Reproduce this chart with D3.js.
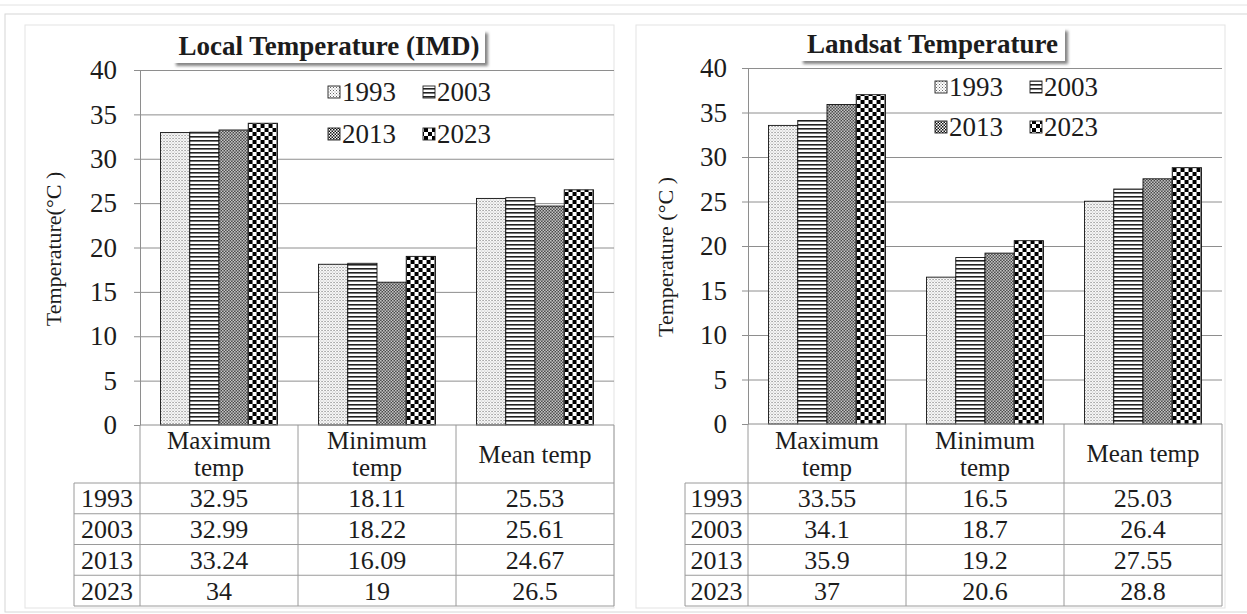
<!DOCTYPE html>
<html>
<head>
<meta charset="utf-8">
<script src="https://cdn.jsdelivr.net/npm/d3@7"></script>
<style>
  body { margin: 0; background: #fff; }
  text { font-family: "Liberation Serif", "Times New Roman", serif; fill: #1c1c1c; }
</style>
</head>
<body>
<div id="chart"></div>
<script>
// data
var categories = ["Maximum temp", "Minimum temp", "Mean temp"];
var categoryLines = [["Maximum", "temp"], ["Minimum", "temp"], ["Mean temp"]];
var years = ["1993", "2003", "2013", "2023"];
var imdValues = [ // rows = years, cols = categories
  [32.95, 18.11, 25.53],
  [32.99, 18.22, 25.61],
  [33.24, 16.09, 24.67],
  [34, 19, 26.5]
];
var landsatValues = [
  [33.55, 16.5, 25.03],
  [34.1, 18.7, 26.4],
  [35.9, 19.2, 27.55],
  [37, 20.6, 28.8]
];
var yTicks = [0, 5, 10, 15, 20, 25, 30, 35, 40];

var width = 1247, height = 614;

var svg = d3.select("#chart").append("svg")
    .attr("width", width)
    .attr("height", height);

var defs = svg.append("defs");

// title shadow
var f = defs.append("filter").attr("id", "shadow")
    .attr("x", "-10%").attr("y", "-30%").attr("width", "130%").attr("height", "180%");
f.append("feDropShadow").attr("dx", 3).attr("dy", 3)
    .attr("stdDeviation", 1.8).attr("flood-color", "#666").attr("flood-opacity", 0.8);

// fill patterns, one per year
function makePattern(id, size, draw) {
  var p = defs.append("pattern").attr("id", id)
      .attr("patternUnits", "userSpaceOnUse")
      .attr("width", size).attr("height", size);
  p.append("rect").attr("width", size).attr("height", size).attr("fill", "#fff");
  draw(p);
}
makePattern("p1993", 3, function(p) {
  p.append("rect").attr("x", 0).attr("y", 0).attr("width", 1).attr("height", 1).attr("fill", "#666");
  p.append("rect").attr("x", 1.5).attr("y", 1.5).attr("width", 1).attr("height", 1).attr("fill", "#888");
});
makePattern("p2003", 4, function(p) {
  p.append("rect").attr("x", 0).attr("y", 0).attr("width", 4).attr("height", 1.6).attr("fill", "#222");
});
makePattern("p2013", 3, function(p) {
  p.append("rect").attr("x", 0).attr("y", 0).attr("width", 1.5).attr("height", 1.5).attr("fill", "#111");
  p.append("rect").attr("x", 1.5).attr("y", 1.5).attr("width", 1.5).attr("height", 1.5).attr("fill", "#111");
});
makePattern("p2023", 8, function(p) {
  p.append("rect").attr("x", 0).attr("y", 0).attr("width", 4).attr("height", 4).attr("fill", "#000");
  p.append("rect").attr("x", 4).attr("y", 4).attr("width", 4).attr("height", 4).attr("fill", "#000");
});

// outer frames
svg.append("line").attr("x1", 0).attr("x2", width).attr("y1", 5).attr("y2", 5)
    .attr("stroke", "#e2e2e2");
svg.append("rect").attr("x", 5).attr("y", 14).attr("width", width).attr("height", 598)
    .attr("fill", "none").attr("stroke", "#d6d6d6");

var panels = [
  { title: "Local Temperature (IMD)", values: imdValues,
    box: [25, 25, 589, 583], titleBox: [173, 30, 312, 33], titleY: 55,
    yLabel: "Temperature(°C )", yLabelX: 53, yLabelY: 249,
    left: 140, right: 614, top: 70, bottom: 425, tableLeft: 74,
    legendX: 328, legendY: [92, 134], tickPad: 17 },
  { title: "Landsat Temperature", values: landsatValues,
    box: [636, 25, 589, 583], titleBox: [800, 28, 265, 33], titleY: 53,
    yLabel: "Temperature (°C )", yLabelX: 665, yLabelY: 257,
    left: 748, right: 1222, top: 68, bottom: 424, tableLeft: 685,
    legendX: 935, legendY: [87, 127], tickPad: 15 }
];

panels.forEach(drawPanel);

function drawPanel(cfg) {
  var g = svg.append("g");

  g.append("rect")
      .attr("x", cfg.box[0]).attr("y", cfg.box[1])
      .attr("width", cfg.box[2]).attr("height", cfg.box[3])
      .attr("fill", "#fff").attr("stroke", "#e3e3e3");

  var y = d3.scaleLinear().domain([0, 40]).range([cfg.bottom, cfg.top]);
  var x0 = d3.scaleBand().domain(categories).range([cfg.left, cfg.right])
      .paddingInner(0.26).paddingOuter(0.13);
  var x1 = d3.scaleBand().domain(years).range([0, x0.bandwidth()]);

  // gridlines
  g.append("g")
      .attr("transform", "translate(" + cfg.left + ",0)")
      .call(d3.axisLeft(y).tickValues(yTicks.slice(1)).tickSize(-(cfg.right - cfg.left)).tickFormat(""))
      .call(function(s) {
        s.select(".domain").remove();
        s.selectAll("line").attr("stroke", "#8e8e8e");
      });

  // y axis
  g.append("g")
      .attr("transform", "translate(" + cfg.left + ",0)")
      .call(d3.axisLeft(y).tickValues(yTicks).tickSize(6).tickPadding(cfg.tickPad).tickSizeOuter(0))
      .call(function(s) {
        s.select(".domain").attr("stroke", "#8e8e8e");
        s.selectAll("line").attr("stroke", "#8e8e8e");
        s.selectAll("text").attr("font-size", 27).attr("font-family", null).attr("fill", "#1c1c1c");
      });

  g.append("text")
      .attr("transform", "translate(" + cfg.yLabelX + "," + cfg.yLabelY + ") rotate(-90)")
      .attr("text-anchor", "middle")
      .attr("dy", "0.35em")
      .attr("font-size", 22)
      .text(cfg.yLabel);

  // bars
  var groups = g.selectAll(".grp")
      .data(categories)
    .enter().append("g")
      .attr("transform", function(d) { return "translate(" + x0(d) + ",0)"; });

  groups.selectAll("rect")
      .data(function(c, ci) {
        return years.map(function(yr, yi) { return { year: yr, value: cfg.values[yi][ci] }; });
      })
    .enter().append("rect")
      .attr("x", function(d) { return x1(d.year); })
      .attr("y", function(d) { return y(d.value); })
      .attr("width", x1.bandwidth())
      .attr("height", function(d) { return y(0) - y(d.value); })
      .attr("fill", function(d) { return "url(#p" + d.year + ")"; })
      .attr("stroke", "#111")
      .attr("stroke-width", 0.9);

  // x axis line
  g.append("line")
      .attr("x1", cfg.left).attr("x2", cfg.right)
      .attr("y1", y(0)).attr("y2", y(0))
      .attr("stroke", "#8e8e8e");

  // data table under the axis
  var rowTop = 483, rowH = 30.75, tableBottom = rowTop + rowH * years.length;
  var bounds = [cfg.left].concat(categories.map(function(c) { return x0(c) - x0.step() * x0.paddingInner() / 2 + x0.step(); }));
  bounds[bounds.length - 1] = cfg.right;

  bounds.forEach(function(bx) {
    g.append("line").attr("x1", bx).attr("x2", bx)
        .attr("y1", y(0)).attr("y2", tableBottom)
        .attr("stroke", "#9a9a9a");
  });
  g.append("line").attr("x1", cfg.tableLeft).attr("x2", cfg.tableLeft)
      .attr("y1", rowTop).attr("y2", tableBottom).attr("stroke", "#9a9a9a");
  d3.range(years.length + 1).forEach(function(i) {
    g.append("line").attr("x1", cfg.tableLeft).attr("x2", cfg.right)
        .attr("y1", rowTop + i * rowH).attr("y2", rowTop + i * rowH)
        .attr("stroke", "#9a9a9a");
  });

  // header labels
  categories.forEach(function(c, ci) {
    var lines = categoryLines[ci];
    var cx = x0(c) + x0.bandwidth() / 2;
    var mid = (y(0) + rowTop) / 2;
    lines.forEach(function(ln, li) {
      g.append("text")
          .attr("x", cx)
          .attr("y", mid + (li - (lines.length - 1) / 2) * 27)
          .attr("dy", "0.35em")
          .attr("text-anchor", "middle")
          .attr("font-size", 25)
          .text(ln);
    });
  });

  years.forEach(function(yr, yi) {
    var cy = rowTop + yi * rowH + rowH / 2;
    g.append("text")
        .attr("x", (cfg.tableLeft + cfg.left) / 2).attr("y", cy)
        .attr("dy", "0.35em").attr("text-anchor", "middle")
        .attr("font-size", 26)
        .text(yr);
    categories.forEach(function(c, ci) {
      g.append("text")
          .attr("x", x0(c) + x0.bandwidth() / 2).attr("y", cy)
          .attr("dy", "0.35em").attr("text-anchor", "middle")
          .attr("font-size", 26)
          .text(String(cfg.values[yi][ci]));
    });
  });

  // legend, 2 x 2
  years.forEach(function(yr, i) {
    var lx = cfg.legendX + (i % 2) * 95;
    var ly = cfg.legendY[Math.floor(i / 2)];
    g.append("rect")
        .attr("x", lx).attr("y", ly - 6)
        .attr("width", 12).attr("height", 12)
        .attr("fill", "url(#p" + yr + ")")
        .attr("stroke", "#222").attr("stroke-width", 0.9);
    g.append("text")
        .attr("x", lx + 14).attr("y", ly)
        .attr("dy", "0.35em")
        .attr("font-size", 27)
        .text(yr);
  });

  // title box with shadow
  g.append("rect")
      .attr("x", cfg.titleBox[0]).attr("y", cfg.titleBox[1])
      .attr("width", cfg.titleBox[2]).attr("height", cfg.titleBox[3])
      .attr("fill", "#fff")
      .attr("filter", "url(#shadow)");
  g.append("text")
      .attr("x", cfg.titleBox[0] + cfg.titleBox[2] / 2)
      .attr("y", cfg.titleY)
      .attr("text-anchor", "middle")
      .attr("font-size", 27)
      .attr("font-weight", "bold")
      .text(cfg.title);
}
</script>
</body>
</html>
